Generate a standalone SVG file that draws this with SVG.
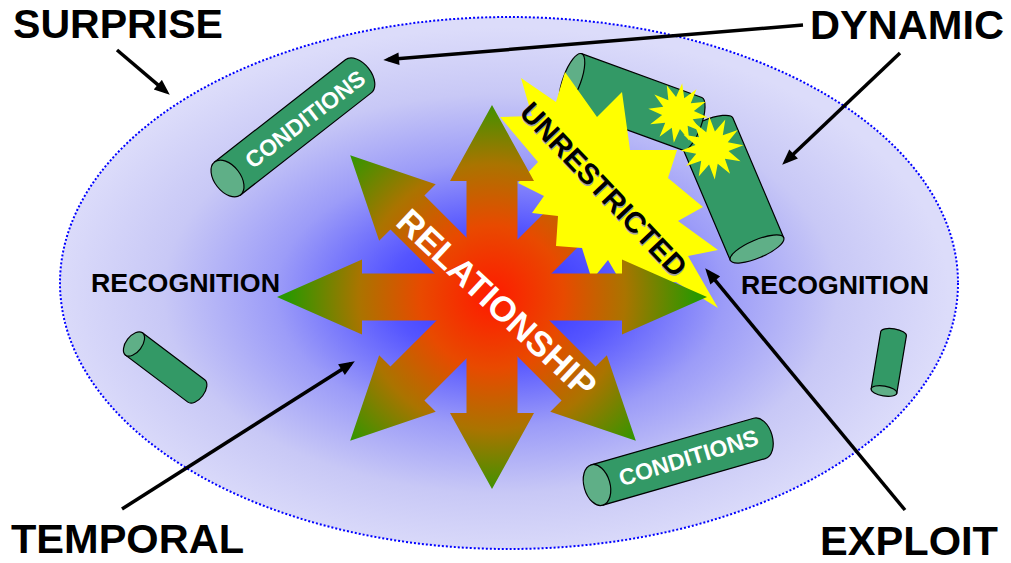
<svg xmlns="http://www.w3.org/2000/svg" xmlns:xlink="http://www.w3.org/1999/xlink" width="1011" height="563" viewBox="0 0 1011 563">
<defs>
<radialGradient id="bgGrad" cx="0.49" cy="0.52" r="0.5">
<stop offset="0" stop-color="#2a2aff"/>
<stop offset="0.25" stop-color="#5555ff"/>
<stop offset="0.5" stop-color="#9c9cf8"/>
<stop offset="0.75" stop-color="#c8c8f6"/>
<stop offset="1" stop-color="#dcdcfa"/>
</radialGradient>
<radialGradient id="arrGrad" gradientUnits="userSpaceOnUse" cx="0" cy="0" r="205">
<stop offset="0" stop-color="#ff1a00"/>
<stop offset="0.35" stop-color="#e84a00"/>
<stop offset="0.65" stop-color="#aa7400"/>
<stop offset="1" stop-color="#2a9800"/>
</radialGradient>
<marker id="ah" viewBox="0 0 10 8" refX="7" refY="4" markerWidth="5" markerHeight="3.6" orient="auto" markerUnits="strokeWidth">
<path d="M0,0 L10,4 L0,8 Z" fill="#000"/>
</marker>
<polygon id="star12" points="30,0 15.45,4.14 25.98,15 11.31,11.31 15,25.98 4.14,15.45 0,30 -4.14,15.45 -15,25.98 -11.31,11.31 -25.98,15 -15.45,4.14 -30,0 -15.45,-4.14 -25.98,-15 -11.31,-11.31 -15,-25.98 -4.14,-15.45 0,-30 4.14,-15.45 15,-25.98 11.31,-11.31 25.98,-15 15.45,-4.14"/>
</defs>
<style>
.lbl{font-family:"Liberation Sans",Arial,sans-serif;font-weight:bold;fill:#000}
.big{font-size:41px}
.rec{font-size:25px}
.cyl{fill:#339966;stroke:#000;stroke-width:1.2}
.cap{fill:#5faf87;stroke:#000;stroke-width:1.2}
.ctext{font-family:"Liberation Sans",Arial,sans-serif;font-weight:bold;font-size:23px;fill:#fff;text-anchor:middle}
.conn{stroke:#000;stroke-width:3.5;fill:none;marker-end:url(#ah)}
.yel{fill:#ffff00;stroke:none}
.arr{fill:url(#arrGrad);stroke:none}
</style>

<g id="field">
<ellipse cx="509" cy="283" rx="449" ry="266" fill="url(#bgGrad)" stroke="#0000ff" stroke-width="2" stroke-dasharray="2 2"/>
</g>

<g id="cyl-conditions-top" transform="translate(227.5,178.5) rotate(-38)">
<path class="cyl" d="M0,-21 H166 A13,21 0 0 1 166,21 H0 Z"/>
<ellipse class="cap" cx="0" cy="0" rx="13" ry="21"/>
</g>
<g id="cyl-conditions-bottom" transform="translate(597,485) rotate(-16)">
<path class="cyl" d="M0,-21 H169 A13,21 0 0 1 169,21 H0 Z"/>
<ellipse class="cap" cx="0" cy="0" rx="13" ry="21"/>
</g>
<g id="cyl-small-left" transform="translate(134,344) rotate(37)">
<path class="cyl" d="M0,-14 H78 A8,14 0 0 1 78,14 H0 Z"/>
<ellipse class="cap" cx="0" cy="0" rx="8" ry="14"/>
</g>
<g id="cyl-small-right" transform="translate(884,391) rotate(-80.5)">
<path class="cyl" d="M0,-13 H58 A5,13 0 0 1 58,13 H0 Z"/>
<ellipse class="cap" cx="0" cy="0" rx="5" ry="13"/>
</g>
<g id="cyl-bent">
<g transform="translate(757,249) rotate(247)">
<path class="cyl" d="M0,-29 H130 A9,29 0 0 1 130,29 H0 Z"/>
<ellipse class="cap" cx="0" cy="0" rx="9" ry="29"/>
</g>
<g transform="translate(572,80) rotate(20)">
<path class="cyl" d="M0,-28 H128 A9,28 0 0 1 128,28 H0 Z"/>
<ellipse class="cap" cx="0" cy="0" rx="9" ry="28"/>
</g>
</g>

<g id="arrow-diagonal">
<path class="arr" transform="translate(493,298) rotate(45)" d="M0,-202 L40,-121 L24,-121 L24,-24 L121,-24 L121,-40 L202,0 L121,40 L121,24 L24,24 L24,121 L40,121 L0,202 L-40,121 L-24,121 L-24,24 L-121,24 L-121,40 L-202,0 L-121,-40 L-121,-24 L-24,-24 L-24,-121 L-40,-121 Z"/>
</g>

<g id="burst-unrestricted">
<polygon class="yel" points="521,78 556,102 565,72 597,117 622,92 630,150 677,150 668,178 703,207 678,221 718,250 688,256 718,308 676,282 622,284 608,260 592,280 582,248 556,246 558,216 532,213 544,196 518,183 538,162 500,117 532,116"/>
</g>
<g id="burst-small">
<use xlink:href="#star12" class="yel" transform="translate(678,113) rotate(8)"/>
<use xlink:href="#star12" class="yel" transform="translate(712,148) rotate(-5) scale(1.05)"/>
</g>

<g id="arrow-upright">
<path class="arr" transform="translate(492,297)" d="M0,-192 L42,-116 L25.5,-116 L25.5,-23.5 L130,-23.5 L130,-37.5 L215,0 L130,37.5 L130,23.5 L25.5,23.5 L25.5,116 L42,116 L0,192 L-42,116 L-25.5,116 L-25.5,23.5 L-130,23.5 L-130,37.5 L-215,0 L-130,-37.5 L-130,-23.5 L-25.5,-23.5 L-25.5,-116 L-42,-116 Z"/>
</g>

<g id="text-relationship" transform="translate(497,303) rotate(43)">
<text x="0" y="12.5" font-family="Liberation Sans, Arial, sans-serif" font-weight="bold" font-size="35" fill="#fff" text-anchor="middle">RELATIONSHIP</text>
</g>
<g id="text-unrestricted" transform="translate(604,189) rotate(46.5)">
<text x="1.2" y="11.7" font-family="Liberation Sans, Arial, sans-serif" font-weight="bold" font-size="29" fill="#a0a0a0" text-anchor="middle">UNRESTRICTED</text>
<text x="0" y="10.5" font-family="Liberation Sans, Arial, sans-serif" font-weight="bold" font-size="29" fill="#000" text-anchor="middle">UNRESTRICTED</text>
</g>
<g id="text-conditions-top" transform="translate(305,119) rotate(-37.5)">
<text class="ctext" x="0" y="8.2">CONDITIONS</text>
</g>
<g id="text-conditions-bottom" transform="translate(688.5,457.5) rotate(-17)">
<text class="ctext" x="0" y="8.2">CONDITIONS</text>
</g>

<g id="label-surprise"><text class="lbl big" x="13" y="38" textLength="210" lengthAdjust="spacingAndGlyphs">SURPRISE</text></g>
<g id="label-dynamic"><text class="lbl big" x="810" y="39" textLength="194" lengthAdjust="spacingAndGlyphs">DYNAMIC</text></g>
<g id="label-temporal"><text class="lbl big" x="11" y="553" textLength="233" lengthAdjust="spacingAndGlyphs">TEMPORAL</text></g>
<g id="label-exploit"><text class="lbl big" x="820" y="555" textLength="178" lengthAdjust="spacingAndGlyphs">EXPLOIT</text></g>
<g id="label-recognition-left"><text class="lbl rec" x="91" y="292" textLength="189" lengthAdjust="spacingAndGlyphs">RECOGNITION</text></g>
<g id="label-recognition-right"><text class="lbl rec" x="741" y="294" textLength="188" lengthAdjust="spacingAndGlyphs">RECOGNITION</text></g>

<g id="connectors">
<line class="conn" x1="117" y1="50" x2="166.2" y2="91.8"/>
<line class="conn" x1="803" y1="25" x2="388" y2="59.6"/>
<line class="conn" x1="900" y1="53" x2="785.6" y2="161.6"/>
<line class="conn" x1="122" y1="509" x2="350.8" y2="363.7"/>
<line class="conn" x1="905" y1="510" x2="708.2" y2="271.9"/>
</g>
</svg>
